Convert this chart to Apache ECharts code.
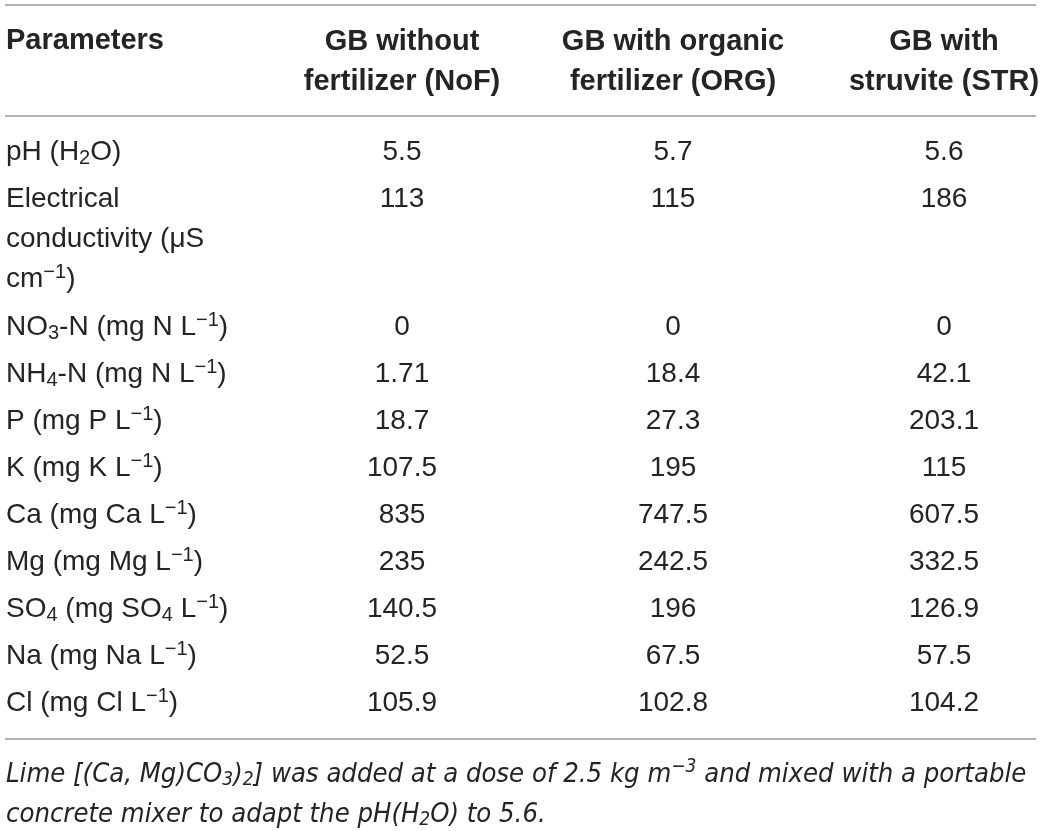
<!DOCTYPE html>
<html>
<head>
<meta charset="UTF-8">
<title>GB parameters table</title>
<script src="https://cdn.jsdelivr.net/npm/echarts@6/dist/echarts.min.js"></script>
<style>
  html, body { margin: 0; padding: 0; background: #fff; }
  #main { width: 1044px; height: 831px; }
</style>
</head>
<body>
<div id="main"></div>
<script>
// column headers
var columns = ['GB without\nfertilizer (NoF)', 'GB with organic\nfertilizer (ORG)', 'GB with\nstruvite (STR)'];
// row names ({sub|..} / {sup|..} are rich text pieces)
var params = [
  'pH (H{sub|2}O)',
  'Electrical\nconductivity (\u03bcS\ncm{sup|\u22121})',
  'NO{sub|3}-N (mg N L{sup|\u22121})',
  'NH{sub|4}-N (mg N L{sup|\u22121})',
  'P (mg P L{sup|\u22121})',
  'K (mg K L{sup|\u22121})',
  'Ca (mg Ca L{sup|\u22121})',
  'Mg (mg Mg L{sup|\u22121})',
  'SO{sub|4} (mg SO{sub|4} L{sup|\u22121})',
  'Na (mg Na L{sup|\u22121})',
  'Cl (mg Cl L{sup|\u22121})'
];
var noF = [5.5, 113, 0, 1.71, 18.7, 107.5, 835, 235, 140.5, 52.5, 105.9];
var org = [5.7, 115, 0, 18.4, 27.3, 195, 747.5, 242.5, 196, 67.5, 102.8];
var str = [5.6, 186, 0, 42.1, 203.1, 115, 607.5, 332.5, 126.9, 57.5, 104.2];
var note = 'Lime [(Ca, Mg)CO{fsub|3}){fsub|2}] was added at a dose of 2.5 kg m{fsup|\u22123} and mixed with a portable\n' +
  'concrete mixer to adapt the pH(H{fsub|2}O) to 5.6.';

var FONT = '"Liberation Sans", Arial, Helvetica, sans-serif';
var NOTE_FONT = '"DejaVu Sans Condensed", "Liberation Sans", sans-serif';
var INK = '#262324';
var RULE = '#9a9a9a';
var ROW = 47;      // px between rows
var LINE = 40.5;   // px between wrapped lines inside one cell

// row position in "row units", wrapped cells push the next rows down
var rowPos = [];
var acc = 0;
params.forEach(function (p) {
  rowPos.push(acc);
  acc += 1 + (p.split('\n').length - 1) * LINE / ROW;
});
var lastPos = rowPos[rowPos.length - 1];
var gridTop = 129;
var gridH = (lastPos + 1) * ROW;
var gridBottom = 831 - gridTop - gridH;

var richBody = {
  sub: { fontSize: 20, fontFamily: FONT, color: INK, padding: [11, 0, 0, 0] },
  sup: { fontSize: 20, fontFamily: FONT, color: INK, padding: [0, 0, 15, 0] }
};

function colData(vals, j) {
  return vals.map(function (v, i) { return [j, rowPos[i], v]; });
}
function valueSeries(vals, j) {
  return {
    type: 'scatter', xAxisIndex: 1, yAxisIndex: 1,
    symbolSize: 1, itemStyle: { color: 'rgba(0,0,0,0)', opacity: 1 },
    data: colData(vals, j),
    label: {
      show: true, position: 'inside', align: 'center', verticalAlign: 'middle',
      fontSize: 28, fontFamily: FONT, color: INK,
      formatter: function (p) { return String(p.value[2]); }
    }
  };
}

var yAx = {
  type: 'value', inverse: true, min: -0.5, max: lastPos + 0.5,
  axisLine: { show: false }, axisTick: { show: false },
  axisLabel: { show: false }, splitLine: { show: false }
};

var chart = echarts.init(document.getElementById('main'));
chart.setOption({
  animation: false,
  backgroundColor: '#fff',
  title: [
    {
      text: 'Parameters', left: 6, top: 21, padding: 0,
      textStyle: { fontSize: 29, fontWeight: 'bold', fontFamily: FONT, color: INK, lineHeight: 40 }
    },
    {
      text: note, left: 6, top: 755, padding: 0,
      textStyle: {
        fontSize: 27.2, fontStyle: 'italic', fontWeight: 'normal', fontFamily: NOTE_FONT,
        color: INK, lineHeight: 40,
        rich: {
          fsub: { fontSize: 19, fontStyle: 'italic', fontWeight: 'normal', fontFamily: NOTE_FONT, color: INK, padding: [11, 0, 0, 0] },
          fsup: { fontSize: 19, fontStyle: 'italic', fontWeight: 'normal', fontFamily: NOTE_FONT, color: INK, padding: [0, 0, 15, 0] }
        }
      }
    }
  ],
  grid: [
    { left: 6, width: 300, top: gridTop, bottom: gridBottom, outerBoundsMode: 'none' },
    { left: 402, right: 100, top: gridTop, bottom: gridBottom, outerBoundsMode: 'none' }
  ],
  xAxis: [
    { gridIndex: 0, type: 'value', min: 0, max: 1, show: false },
    {
      gridIndex: 1, type: 'category', data: columns, position: 'top', boundaryGap: false,
      axisLine: { show: false }, axisTick: { show: false }, splitLine: { show: false },
      axisLabel: {
        interval: 0, margin: 27, verticalAlign: 'bottom', align: 'center',
        fontSize: 29, fontWeight: 'bold', fontFamily: FONT, color: INK, lineHeight: 40
      }
    }
  ],
  yAxis: [
    Object.assign({ gridIndex: 0 }, yAx),
    Object.assign({ gridIndex: 1 }, yAx)
  ],
  graphic: [
    { type: 'line', shape: { x1: 5, y1: 5, x2: 1036, y2: 5 }, style: { stroke: RULE, lineWidth: 1.5 } },
    { type: 'line', shape: { x1: 5, y1: 116, x2: 1036, y2: 116 }, style: { stroke: RULE, lineWidth: 1.5 } },
    { type: 'line', shape: { x1: 5, y1: 739, x2: 1036, y2: 739 }, style: { stroke: RULE, lineWidth: 1.5 } }
  ],
  series: [
    {
      type: 'scatter', xAxisIndex: 0, yAxisIndex: 0,
      symbolSize: 1, itemStyle: { color: 'rgba(0,0,0,0)', opacity: 1 },
      data: params.map(function (p, i) { return { name: p, value: [0, rowPos[i]] }; }),
      label: {
        show: true, position: 'inside', align: 'left', verticalAlign: 'top', offset: [0, -20],
        fontSize: 28, fontFamily: FONT, color: INK, lineHeight: 40,
        formatter: '{b}', rich: richBody
      }
    },
    valueSeries(noF, 0),
    valueSeries(org, 1),
    valueSeries(str, 2)
  ]
});
</script>
</body>
</html>
